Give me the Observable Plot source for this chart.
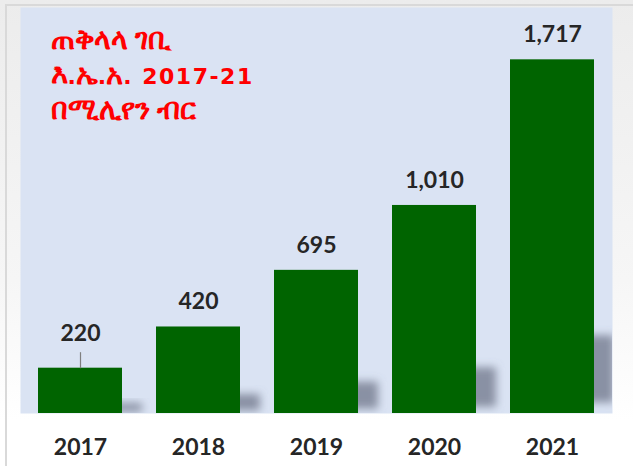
<!DOCTYPE html>
<html>
<head>
<meta charset="utf-8">
<script src="https://cdn.jsdelivr.net/npm/d3@7"></script>
<script src="https://cdn.jsdelivr.net/npm/@observablehq/plot@0.6"></script>
<style>
  html, body { margin: 0; padding: 0; background: #ffffff; }
  #wrap { position: relative; width: 633px; height: 466px; overflow: hidden;
          background: linear-gradient(to bottom, #ececec 0%, #f6f6f6 60%, #ffffff 90%); }
  #border { position: absolute; left: 5px; top: 4px; right: 0; bottom: 0;
            border-top: 2px solid #d9d9d9; border-left: 2px solid #d9d9d9; }
  #chart { position: absolute; left: 0; top: 0; }
</style>
</head>
<body>
<div id="wrap"><div id="border"></div><div id="chart"></div></div>
<script>
const years = ["2017", "2018", "2019", "2020", "2021"];
const revenue = [220, 420, 695, 1010, 1717];
const titleLines = ["ጠቅላላ ገቢ", "እ.ኤ.አ. 2017-21", "በሚሊየን ብር"];

const data = years.map((year, i) => ({year, value: revenue[i]}));
const yMax = 1971;
const innerH = 466 - 7 - 53;
const stem = 16 * yMax / innerH;
const fmt = d3.format(",");
const shadowColor = "#6f7689";
const titleColor = "#ff0000";

const chart = Plot.plot({
  width: 633,
  height: 466,
  marginLeft: 20,
  marginRight: 21,
  marginTop: 7,
  marginBottom: 53,
  style: {background: "transparent", fontFamily: "Lato, 'Open Sans', sans-serif"},
  x: {domain: years, paddingInner: 0.29, paddingOuter: 0.145, label: null},
  y: {domain: [0, yMax], axis: null},
  marks: [
    Plot.frame({fill: "#dae3f3", stroke: null}),
    Plot.barY(data, {x: "year", y1: d => d.value * 0.03, y2: d => d.value * 0.22, dx: 20, fill: shadowColor, fillOpacity: 0.75, clip: true}),
    Plot.barY(data, {x: "year", y: "value", fill: "#006400"}),
    Plot.axisX({tickSize: 0, tickPadding: 25, fontSize: 23, fontWeight: "bold", fill: "#262626"}),
    Plot.text(data.slice(1), {x: "year", y: "value", text: d => fmt(d.value), dy: -25, lineAnchor: "middle", fontSize: 23, fontWeight: "bold", fill: "#262626"}),
    Plot.link(data.slice(0, 1), {x1: "year", x2: "year", y1: "value", y2: d => d.value + stem, stroke: "#7f7f7f", strokeWidth: 1.2}),
    Plot.text(data.slice(0, 1), {x: "year", y: "value", text: d => fmt(d.value), dy: -35, lineAnchor: "middle", fontSize: 23, fontWeight: "bold", fill: "#262626"}),
    Plot.text([titleLines.join("\n")], {frameAnchor: "top-left", dx: 30, dy: 17, lineAnchor: "top", textAnchor: "start", lineHeight: 1.58, fontSize: 22, fontWeight: "bold", fill: titleColor, fontFamily: "'DejaVu Sans', 'Noto Sans', sans-serif"})
  ]
});

const svg = d3.select(chart);
const defs = svg.insert("defs", ":first-child");
defs.append("filter").attr("id", "shadowBlur").attr("x", "-50%").attr("y", "-50%").attr("width", "200%").attr("height", "200%")
  .append("feGaussianBlur").attr("stdDeviation", 4.5);
svg.selectAll(`[fill="${shadowColor}"] rect`).attr("filter", "url(#shadowBlur)");

// enlarge the Ethiopic runs of the title so they match the digits' visual size
const ethiopic = /([\u1200-\u139F\u2D80-\u2DDF]+)/;
const isEth = /[\u1200-\u139F\u2D80-\u2DDF]/;
svg.selectAll(`[fill="${titleColor}"] tspan`).each(function () {
  const t = this.textContent;
  if (!t) return;
  this.textContent = "";
  t.split(ethiopic).filter(s => s.length).forEach(part => {
    const ts = document.createElementNS("http://www.w3.org/2000/svg", "tspan");
    ts.textContent = part;
    if (isEth.test(part)) ts.setAttribute("font-size", "29px");
    else if (/\d/.test(part)) ts.setAttribute("letter-spacing", "1.5px");
    this.appendChild(ts);
  });
});

document.getElementById("chart").appendChild(chart);
</script>
</body>
</html>
